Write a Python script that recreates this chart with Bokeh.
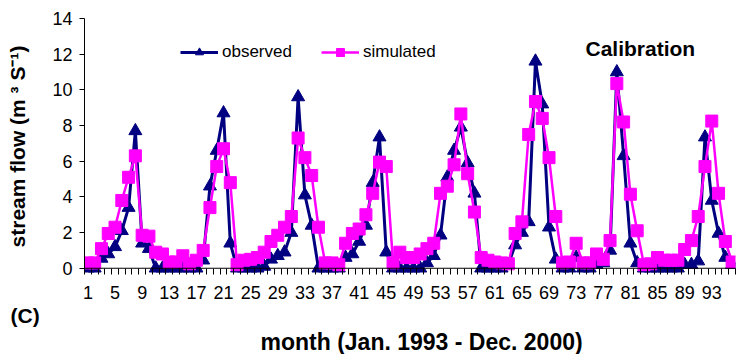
from bokeh.plotting import figure
from bokeh.models import (Range1d, FixedTicker, Legend, LegendItem, Label, Span, Title)
from bokeh.embed import file_html
from bokeh.resources import INLINE

# ---- data -------------------------------------------------------------
months = list(range(1, 97))
x_tick_values = list(range(1, 97, 4))
y_tick_values = [0, 2, 4, 6, 8, 10, 12, 14]

observed = [
    0, 0, 0.55, 0.8, 1.2, 2.1, 3.4, 7.7, 1.4, 1.1, 0, 0,
    0, 0, 0, 0, 0, 0.45, 4.6, 6.6, 8.7, 1.4, 0, 0,
    0, 0, 0.1, 0.5, 0.7, 0.9, 2.0, 9.6, 4.1, 2.4, 0, 0,
    0, 0, 0.6, 0.8, 1.5, 2.4, 4.8, 7.35, 0.9, 0, 0, 0,
    0, 0, 0.3, 0.7, 1.85, 5.1, 6.6, 7.9, 5.9, 4.2, 0, 0,
    0, 0, 0.2, 1.3, 2.0, 2.6, 11.6, 9.2, 2.3, 0.5, 0, 0,
    0.6, 0, 0, 0.2, 0.3, 1.0, 11.0, 6.3, 1.4, 0.3, 0, 0,
    0, 0, 0, 0, 0.2, 0.2, 0.4, 7.35, 3.8, 1.95, 0.6, 0.2,
]

simulated = [
    0.3, 0.3, 1.1, 1.95, 2.3, 3.8, 5.1, 6.3, 1.85, 1.8, 0.9, 0.8,
    0.35, 0.35, 0.7, 0.25, 0.45, 1.0, 3.4, 5.7, 6.7, 4.8, 0.2, 0.45,
    0.5, 0.6, 0.9, 1.5, 1.85, 2.3, 2.9, 7.3, 6.2, 5.2, 2.3, 0.3,
    0.3, 0.2, 1.4, 1.95, 2.2, 3.0, 4.2, 5.95, 5.7, 0.3, 0.9, 0.6,
    0.6, 0.8, 1.1, 1.4, 4.2, 4.6, 5.8, 8.65, 5.3, 3.15, 0.6, 0.45,
    0.35, 0.3, 0.25, 1.95, 2.6, 7.5, 9.35, 8.4, 6.2, 2.9, 0.3, 0.35,
    1.4, 0.3, 0.3, 0.8, 0.5, 1.55, 10.35, 8.2, 4.15, 2.1, 0.2, 0.25,
    0.6, 0.45, 0.45, 0.45, 1.05, 1.55, 2.9, 5.7, 8.25, 4.2, 1.5, 0.35,
]

OBS_COLOR = "#000080"
SIM_COLOR = "#FF00FF"
FONT = "Liberation Sans"

# ---- figure -----------------------------------------------------------
p = figure(width=736, height=354, output_backend="svg", toolbar_location=None,
           x_range=Range1d(0.5, 96.5), y_range=Range1d(-0.35, 14),
           min_border_left=84, min_border_right=1, min_border_top=18,
           min_border_bottom=80)
p.outline_line_color = None
p.background_fill_color = "white"
p.border_fill_color = "white"

# grid: only the top line at 14
p.xgrid.visible = False
p.ygrid.ticker = FixedTicker(ticks=[14])
p.ygrid.grid_line_color = "#808080"
p.ygrid.grid_line_width = 1

# category-axis line at y = 0
p.add_layout(Span(location=0, dimension="width", line_color="black",
                  line_width=1))

# x axis (line hidden; month-boundary ticks reach down to the frame edge)
xa = p.xaxis[0]
xa.ticker = FixedTicker(ticks=x_tick_values,
                        minor_ticks=[m + 0.5 for m in [0] + months])
xa.axis_line_color = None
xa.major_tick_out = 0
xa.major_tick_in = 0
xa.minor_tick_out = 0
xa.minor_tick_in = 6
xa.minor_tick_line_color = "black"
xa.major_label_text_font = FONT
xa.major_label_text_font_size = "18px"
xa.major_label_text_color = "black"
xa.major_label_standoff = 11

# panel tag and x-axis title, stacked below the axis
p.add_layout(Title(text="(C)", align="left", offset=-74, standoff=0,
                   text_font=FONT, text_font_style="bold",
                   text_font_size="21px", text_color="black"), "below")
p.add_layout(Title(text="month (Jan. 1993 - Dec. 2000)", align="left",
                   offset=176, standoff=0,
                   text_font=FONT, text_font_style="bold",
                   text_font_size="23px", text_color="black"), "below")

# y axis
ya = p.yaxis[0]
ya.ticker = FixedTicker(ticks=y_tick_values)
ya.bounds = (0, 14)
ya.major_tick_out = 5
ya.major_tick_in = 0
ya.minor_tick_out = 0
ya.minor_tick_in = 0
ya.axis_line_color = "black"
ya.major_label_text_font = FONT
ya.major_label_text_font_size = "18px"
ya.major_label_text_color = "black"
ya.major_label_standoff = 7
ya.axis_label = "stream flow (m \u00b3 S\u207b\u00b9)"
ya.axis_label_text_font = FONT
ya.axis_label_text_font_style = "bold"
ya.axis_label_text_font_size = "21px"
ya.axis_label_text_color = "black"
ya.axis_label_standoff = 20

# series
obs_line = p.line(months, observed, line_color=OBS_COLOR, line_width=3)
obs_pts = p.scatter(months, observed, marker="triangle", size=13,
                    fill_color=OBS_COLOR, line_color=OBS_COLOR)
sim_line = p.line(months, simulated, line_color=SIM_COLOR, line_width=2.5)
sim_pts = p.scatter(months, simulated, marker="square", size=12,
                    fill_color=SIM_COLOR, line_color=SIM_COLOR)

legend = Legend(items=[LegendItem(label="observed", renderers=[obs_line, obs_pts]),
                       LegendItem(label="simulated", renderers=[sim_line, sim_pts])],
                orientation="horizontal", location=(96, 212),
                glyph_width=38, glyph_height=20, label_standoff=4, spacing=29,
                padding=0, margin=0, border_line_color=None,
                background_fill_alpha=0,
                label_text_font=FONT, label_text_font_size="17px",
                label_text_color="black")
p.add_layout(legend)

p.add_layout(Label(x=501, y=226, x_units="screen", y_units="screen",
                   text="Calibration", text_font=FONT, text_font_style="bold",
                   text_font_size="21px", text_color="black",
                   text_baseline="middle", text_align="left"))

open("out.html", "w").write(file_html(p, INLINE))
